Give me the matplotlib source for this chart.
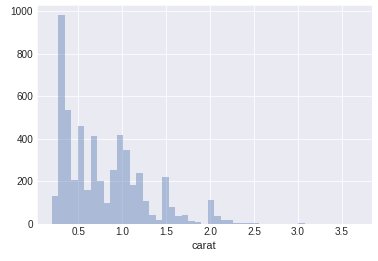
import matplotlib
matplotlib.use("Agg")
import matplotlib.pyplot as plt
import numpy as np
import seaborn as sns

# histogram of diamond carat, 47 bins between 0.2 and 3.67
bin_lo = 0.2
bin_hi = 3.67
counts = [130, 980, 536, 206, 460, 159, 413, 201, 99, 253,
          418, 347, 182, 240, 108, 42, 18, 221, 80, 37,
          42, 14, 9, 0, 113, 37, 19, 19, 5, 5,
          5, 4, 0, 0, 0, 0, 0, 0, 4, 0,
          0, 0, 0, 0, 0, 0, 1]
xlabel = "carat"

sns.set_style("darkgrid")
plt.rcParams['font.family'] = ['Liberation Sans', 'DejaVu Sans']

edges = np.linspace(bin_lo, bin_hi, len(counts) + 1)
fig = plt.figure(figsize=(378 / 72, 261 / 72), dpi=72)
ax = fig.add_axes([0.097, 0.142, 0.887, 0.839])
ax.bar(edges[:-1], counts, width=np.diff(edges), align='edge',
       color="#4C72B0", alpha=0.4, linewidth=0)
ax.set_xlim(bin_lo - 0.05 * (bin_hi - bin_lo), bin_hi + 0.05 * (bin_hi - bin_lo))
ax.set_ylim(0, max(counts) * 1.05)
ax.set_xticks(np.arange(0.5, 3.6, 0.5))
ax.set_yticks(np.arange(0, 1001, 200))
ax.tick_params(labelsize=10, colors="#262626", length=0)
ax.set_xlabel(xlabel, fontsize=11, color="#262626")
fig.savefig("out.png", dpi=72)
